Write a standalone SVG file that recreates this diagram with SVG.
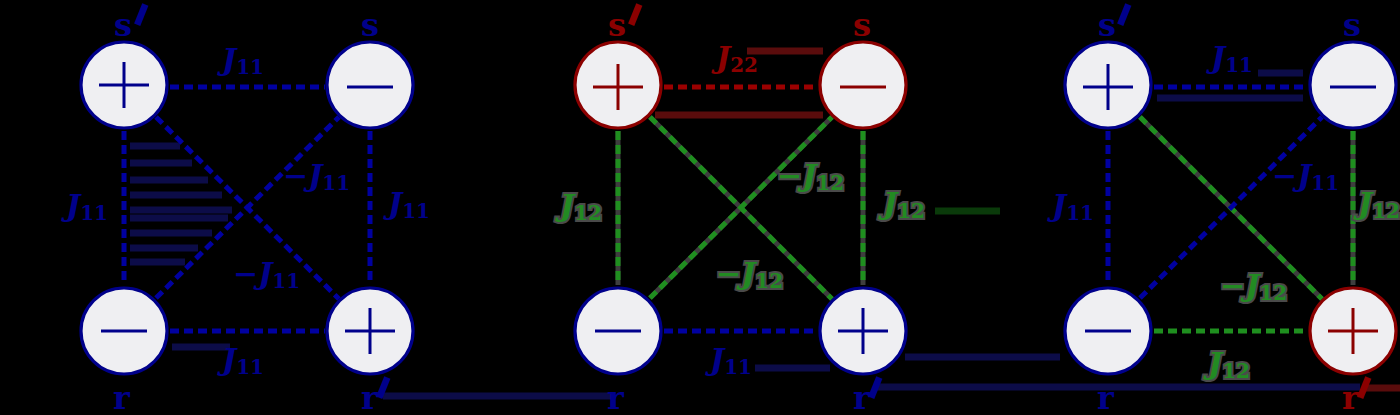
<svg xmlns="http://www.w3.org/2000/svg" width="1400" height="415" viewBox="0 0 1400 415">
<style>
.bg{fill:#000}
.node circle{fill:#efeff2;stroke-width:3.2}
.node line{stroke-width:3}
.nb circle,.nb line{stroke:#00008B}
.nr circle,.nr line{stroke:#8B0000}
.e{fill:none;stroke-width:5;stroke-dasharray:9 5}
.eb{stroke:#0000A0}
.er{stroke:#9B0000}
.eg{stroke:#1f8f1f}
.under{fill:none;stroke:#3e3e3e;stroke-width:5}
.t{font-family:"DejaVu Serif","Liberation Serif",serif;font-weight:bold}
.lbl{font-size:30px;font-style:italic}
.sub{font-size:20px;font-style:normal}
.name{font-size:32px}
.pr{font-family:"DejaVu Sans",sans-serif;font-size:80px;font-weight:normal;text-anchor:middle}
.cb{fill:#00008B}
.cr{fill:#8B0000}
.cg{fill:#228B22;stroke:#4a4a4a;stroke-width:4;paint-order:stroke}
.art{stroke-width:7;fill:none}
</style>
<rect class="bg" x="0" y="0" width="1400" height="415"/>

<g id="artifacts">
  <g stroke="#0c0c48" class="art" stroke-width="6">
    <line x1="130" y1="146" x2="180" y2="146"/>
    <line x1="130" y1="163" x2="192" y2="163"/>
    <line x1="130" y1="180" x2="208" y2="180"/>
    <line x1="130" y1="195" x2="222" y2="195"/>
    <line x1="130" y1="210" x2="232" y2="210"/>
    <line x1="130" y1="218" x2="228" y2="218"/>
    <line x1="130" y1="233" x2="212" y2="233"/>
    <line x1="130" y1="248" x2="198" y2="248"/>
    <line x1="130" y1="262" x2="185" y2="262"/>
    <line x1="172" y1="347" x2="230" y2="347"/>
    <line x1="383" y1="396" x2="612" y2="396"/>
    <line x1="755" y1="368" x2="830" y2="368"/>
    <line x1="905" y1="357" x2="1060" y2="357"/>
    <line x1="875" y1="387" x2="1360" y2="387"/>
    <line x1="1258" y1="73" x2="1303" y2="73"/>
    <line x1="1157" y1="98" x2="1303" y2="98"/>
  </g>
  <g stroke="#5a0c0c" class="art">
    <line x1="747" y1="51" x2="823" y2="51"/>
    <line x1="655" y1="115" x2="823" y2="115"/>
    <line x1="1362" y1="388" x2="1400" y2="388"/>
  </g>
  <line stroke="#0a3a0a" class="art" x1="935" y1="211" x2="1000" y2="211"/>
</g>

<g id="connectors">
  <!-- panel 1 -->
  <line class="e eb" x1="170" y1="87" x2="325" y2="87"/>
  <line class="e eb" x1="124" y1="131" x2="124" y2="285"/>
  <line class="e eb" x1="370" y1="131" x2="370" y2="285"/>
  <line class="e eb" x1="170" y1="331" x2="325" y2="331"/>
  <line class="e eb" x1="156" y1="117" x2="339" y2="299"/>
  <line class="e eb" x1="156" y1="298" x2="339" y2="117"/>
  <!-- panel 2 -->
  <line class="under" x1="618" y1="131" x2="618" y2="285"/>
  <line class="under" x1="863" y1="131" x2="863" y2="285"/>
  <line class="under" x1="650" y1="117" x2="832" y2="299"/>
  <line class="under" x1="650" y1="298" x2="832" y2="117"/>
  <line class="e er" x1="664" y1="87" x2="818" y2="87"/>
  <line class="e eg" x1="618" y1="131" x2="618" y2="285"/>
  <line class="e eg" x1="863" y1="131" x2="863" y2="285"/>
  <line class="e eg" x1="650" y1="117" x2="832" y2="299"/>
  <line class="e eg" x1="650" y1="298" x2="832" y2="117"/>
  <line class="e eb" x1="664" y1="331" x2="818" y2="331"/>
  <!-- panel 3 -->
  <line class="under" x1="1140" y1="117" x2="1322" y2="299"/>
  <line class="under" x1="1353" y1="131" x2="1353" y2="285"/>
  <line class="e eb" x1="1154" y1="87" x2="1308" y2="87"/>
  <line class="e eb" x1="1108" y1="131" x2="1108" y2="285"/>
  <line class="e eg" x1="1353" y1="131" x2="1353" y2="285"/>
  <line class="e eg" x1="1154" y1="331" x2="1308" y2="331"/>
  <line class="e eg" x1="1140" y1="117" x2="1322" y2="299"/>
  <line class="e eb" x1="1140" y1="298" x2="1322" y2="117"/>
</g>

<!-- panel 1 nodes -->
<g id="p1-sp" class="node nb"><circle cx="124" cy="85" r="43"/><line x1="99" y1="85" x2="149" y2="85"/><line x1="124" y1="62" x2="124" y2="108"/></g>
<g id="p1-s" class="node nb"><circle cx="370" cy="85" r="43"/><line x1="347" y1="87" x2="393" y2="87"/></g>
<g id="p1-r" class="node nb"><circle cx="124" cy="331" r="43"/><line x1="101" y1="331" x2="147" y2="331"/></g>
<g id="p1-rp" class="node nb"><circle cx="370" cy="331" r="43"/><line x1="345" y1="331" x2="395" y2="331"/><line x1="370" y1="308" x2="370" y2="354"/></g>
<!-- panel 2 nodes -->
<g id="p2-sp" class="node nr"><circle cx="618" cy="85" r="43"/><line x1="593" y1="87" x2="643" y2="87"/><line x1="618" y1="64" x2="618" y2="110"/></g>
<g id="p2-s" class="node nr"><circle cx="863" cy="85" r="43"/><line x1="840" y1="87" x2="886" y2="87"/></g>
<g id="p2-r" class="node nb"><circle cx="618" cy="331" r="43"/><line x1="595" y1="331" x2="641" y2="331"/></g>
<g id="p2-rp" class="node nb"><circle cx="863" cy="331" r="43"/><line x1="838" y1="331" x2="888" y2="331"/><line x1="863" y1="308" x2="863" y2="354"/></g>
<!-- panel 3 nodes -->
<g id="p3-sp" class="node nb"><circle cx="1108" cy="85" r="43"/><line x1="1083" y1="87" x2="1133" y2="87"/><line x1="1108" y1="64" x2="1108" y2="110"/></g>
<g id="p3-s" class="node nb"><circle cx="1353" cy="85" r="43"/><line x1="1330" y1="87" x2="1376" y2="87"/></g>
<g id="p3-r" class="node nb"><circle cx="1108" cy="331" r="43"/><line x1="1085" y1="331" x2="1131" y2="331"/></g>
<g id="p3-rp" class="node nr"><circle cx="1353" cy="331" r="43"/><line x1="1328" y1="331" x2="1378" y2="331"/><line x1="1353" y1="308" x2="1353" y2="354"/></g>

<g id="names" class="t name">
  <text class="cb" x="114" y="36">s</text>
  <text class="cb" x="361" y="36">s</text>
  <text class="cb" x="113" y="409">r</text>
  <text class="cb" x="361" y="409">r</text>
  <text class="cr" x="608" y="36">s</text>
  <text class="cr" x="853" y="36">s</text>
  <text class="cb" x="607" y="409">r</text>
  <text class="cb" x="853" y="409">r</text>
  <text class="cb" x="1098" y="36">s</text>
  <text class="cb" x="1343" y="36">s</text>
  <text class="cb" x="1097" y="409">r</text>
  <text class="cr" x="1342" y="409">r</text>
</g>
<g id="primes" class="pr">
  <text class="cb" x="141" y="62" transform="rotate(22 141 15)">'</text>
  <text class="cb" x="383" y="435" transform="rotate(22 383 388)">'</text>
  <text class="cr" x="635" y="62" transform="rotate(22 635 15)">'</text>
  <text class="cb" x="875" y="435" transform="rotate(22 875 388)">'</text>
  <text class="cb" x="1124" y="62" transform="rotate(22 1124 15)">'</text>
  <text class="cr" x="1364" y="435" transform="rotate(22 1364 388)">'</text>
</g>

<g id="labels" class="t lbl">
  <!-- panel 1 -->
  <text class="cb" x="222" y="70">J<tspan class="sub" dy="4">11</tspan></text>
  <text class="cb" x="66" y="216">J<tspan class="sub" dy="4">11</tspan></text>
  <text class="cb" x="388" y="214">J<tspan class="sub" dy="4">11</tspan></text>
  <text class="cb" x="283" y="186">−J<tspan class="sub" dy="4">11</tspan></text>
  <text class="cb" x="233" y="284">−J<tspan class="sub" dy="4">11</tspan></text>
  <text class="cb" x="222" y="370">J<tspan class="sub" dy="4">11</tspan></text>
  <!-- panel 2 -->
  <text class="cr" x="716" y="68">J<tspan class="sub" dy="4">22</tspan></text>
  <text class="cg" x="560" y="216">J<tspan class="sub" dy="4">12</tspan></text>
  <text class="cg" x="883" y="214">J<tspan class="sub" dy="4">12</tspan></text>
  <text class="cg" x="777" y="186">−J<tspan class="sub" dy="4">12</tspan></text>
  <text class="cg" x="716" y="284">−J<tspan class="sub" dy="4">12</tspan></text>
  <text class="cb" x="710" y="370">J<tspan class="sub" dy="4">11</tspan></text>
  <!-- panel 3 -->
  <text class="cb" x="1211" y="68">J<tspan class="sub" dy="4">11</tspan></text>
  <text class="cb" x="1052" y="216">J<tspan class="sub" dy="4">11</tspan></text>
  <text class="cb" x="1272" y="186">−J<tspan class="sub" dy="4">11</tspan></text>
  <text class="cg" x="1358" y="214">J<tspan class="sub" dy="4">12</tspan></text>
  <text class="cg" x="1220" y="296">−J<tspan class="sub" dy="4">12</tspan></text>
  <text class="cg" x="1208" y="374">J<tspan class="sub" dy="4">12</tspan></text>
</g>
</svg>
